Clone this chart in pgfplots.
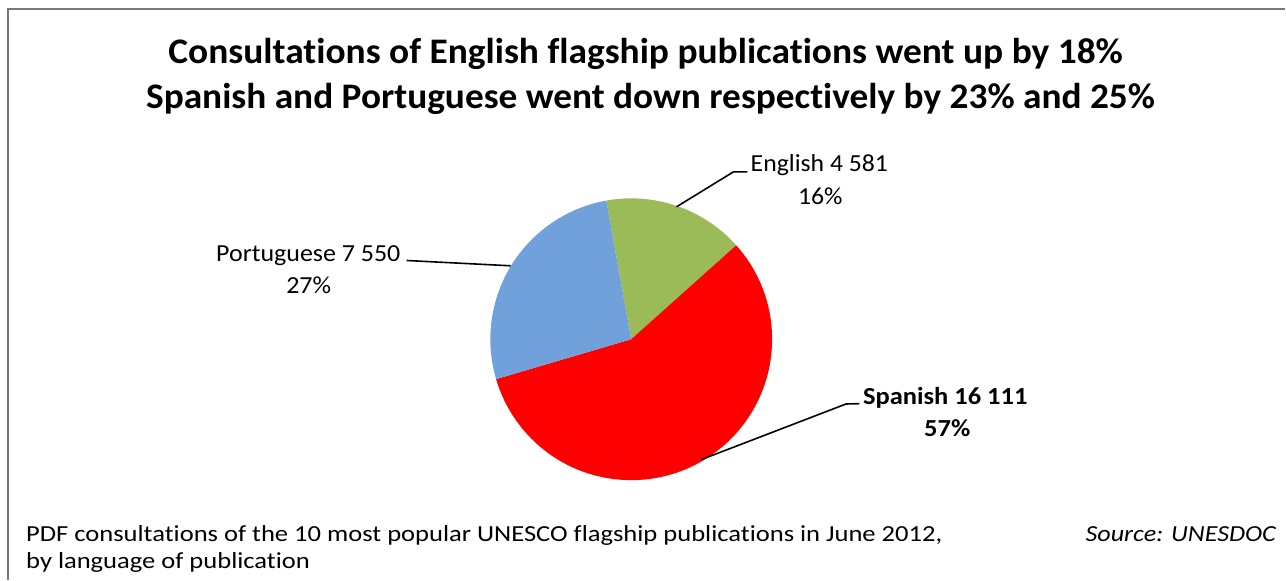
\documentclass[border=0pt]{standalone}
\usepackage{fontspec}
\setmainfont{Carlito}[Ligatures=NoCommon]
\usepackage{graphicx}
\usepackage{pgfplots}
\pgfplotsset{compat=1.18}
\definecolor{pieGreen}{RGB}{155,187,89}
\definecolor{pieBlue}{RGB}{113,161,218}
\definecolor{pieRed}{RGB}{255,0,0}
\definecolor{frameGray}{RGB}{120,120,120}
\begin{document}
\begin{tikzpicture}
% values: English, Spanish, Portuguese
\def\vEn{4581}
\def\vEs{16111}
\def\vPt{7550}
\pgfmathsetmacro\tot{\vEn/100+\vEs/100+\vPt/100}
\pgfmathsetmacro\aA{100.2}
\pgfmathsetmacro\aB{\aA-\vEn/100/\tot*360}
\pgfmathsetmacro\aC{\aB-\vEs/100/\tot*360}
\pgfmathsetmacro\aD{\aA-360}
\begin{axis}[scale only axis, width=1286pt, height=580pt,
  xmin=0, xmax=1286, ymin=0, ymax=580, hide axis, clip=false]
\path (axis cs:0,0) rectangle (axis cs:1286,580);
% frame
\draw[frameGray, line width=2pt] (axis cs:8,0) -- (axis cs:8,571) -- (axis cs:1286,571);
% pie
\fill[pieGreen] (axis cs:631.7,240.5) -- ++(\aA:141pt) arc[start angle=\aA, end angle=\aB, radius=141pt] -- cycle;
\fill[pieRed] (axis cs:631.7,240.5) -- ++(\aB:141pt) arc[start angle=\aB, end angle=\aC, radius=141pt] -- cycle;
\fill[pieBlue] (axis cs:631.7,240.5) -- ++(\aC:141pt) arc[start angle=\aC, end angle=\aD, radius=141pt] -- cycle;
% leader lines
\draw[black, line width=1.6pt] (axis cs:677,373) -- (axis cs:734,408) -- (axis cs:748,408);
\draw[black, line width=1.6pt] (axis cs:407,319.3) -- (axis cs:511,314);
\draw[black, line width=1.6pt] (axis cs:701.7,120) -- (axis cs:846.7,175.7) -- (axis cs:860,176);
% title
\node[anchor=base, font=\fontsize{36}{45}\selectfont\bfseries] at (axis cs:646,516.7) {\scalebox{1.04}[1]{Consultations of English flagship publications went up by 18\%}};
\node[anchor=base, font=\fontsize{36}{45}\selectfont\bfseries] at (axis cs:651,471.7) {\scalebox{1.037}[1]{Spanish and Portuguese went down respectively by 23\% and 25\%}};
% labels
\node[anchor=base, font=\fontsize{24.5}{30}\selectfont] at (axis cs:820,408) {\scalebox{1.05}[1]{English 4 581}};
\node[anchor=base, font=\fontsize{24.5}{30}\selectfont] at (axis cs:821,375) {\scalebox{1.05}[1]{16\%}};
\node[anchor=base, font=\fontsize{24.5}{30}\selectfont] at (axis cs:308.5,318.3) {\scalebox{1.06}[1]{Portuguese 7 550}};
\node[anchor=base, font=\fontsize{24.5}{30}\selectfont] at (axis cs:309,286.7) {\scalebox{1.06}[1]{27\%}};
\node[anchor=base, font=\fontsize{24.5}{30}\selectfont\bfseries] at (axis cs:946,175) {\scalebox{1.08}[1]{Spanish 16 111}};
\node[anchor=base, font=\fontsize{24.5}{30}\selectfont\bfseries] at (axis cs:948,143.3) {\scalebox{1.08}[1]{57\%}};
% footer
\node[anchor=base west, inner sep=0pt, font=\fontsize{23}{29}\selectfont] at (axis cs:26,38.5) {\scalebox{1.155}[1]{PDF consultations of the 10 most popular UNESCO flagship publications in June 2012,}};
\node[anchor=base west, inner sep=0pt, font=\fontsize{23}{29}\selectfont] at (axis cs:26,11.5) {\scalebox{1.155}[1]{by language of publication}};
\node[anchor=base east, inner sep=0pt, font=\fontsize{23}{29}\selectfont\itshape] at (axis cs:1277,38.5) {\scalebox{1.136}[1]{Source: UNESDOC}};
\end{axis}
\end{tikzpicture}
\end{document}
